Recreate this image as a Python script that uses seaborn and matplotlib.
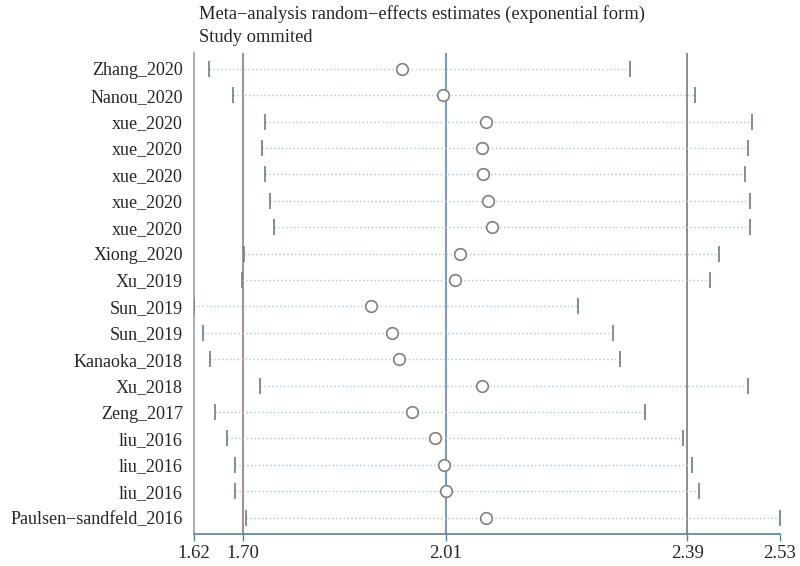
import seaborn as sns
import matplotlib.pyplot as plt
import pandas as pd

sns.set_style("white")
plt.rcParams['font.family'] = ['Liberation Serif', 'DejaVu Serif']

# studies omitted, in plot order (top to bottom)
studies = ["Zhang_2020", "Nanou_2020", "xue_2020", "xue_2020", "xue_2020",
           "xue_2020", "xue_2020", "Xiong_2020", "Xu_2019", "Sun_2019",
           "Sun_2019", "Kanaoka_2018", "Xu_2018", "Zeng_2017", "liu_2016",
           "liu_2016", "liu_2016", "Paulsen\u2212sandfeld_2016"]
estimate = [1.943, 2.007, 2.073, 2.068, 2.069, 2.077, 2.082, 2.033, 2.025,
            1.895, 1.927, 1.938, 2.068, 1.958, 1.995, 2.008, 2.012, 2.073]
lower = [1.644, 1.680, 1.730, 1.725, 1.730, 1.738, 1.745, 1.698, 1.694,
         1.620, 1.634, 1.645, 1.723, 1.653, 1.672, 1.683, 1.684, 1.701]
upper = [2.297, 2.398, 2.487, 2.481, 2.475, 2.483, 2.484, 2.436, 2.421,
         2.216, 2.270, 2.281, 2.481, 2.320, 2.380, 2.394, 2.404, 2.530]

# overall estimate and its CI (reference lines), plus axis limits
overall = [1.696, 2.011, 2.386]
tick_vals = [1.620, 1.696, 2.011, 2.386, 2.530]
tick_labels = ["1.62", "1.70", "2.01", "2.39", "2.53"]

df = pd.DataFrame({"study": studies, "est": estimate, "lo": lower, "hi": upper})
df["row"] = range(len(df))

fig = plt.figure(figsize=(8, 5.66), dpi=100)
ax = fig.add_axes([0.2425, 0.0565, 0.7325, 0.85])

# reference lines
ax.axvline(overall[0], color="#a08478", lw=1.3, zorder=1)
ax.axvline(overall[1], color="#6f90b0", lw=1.3, zorder=1)
ax.axvline(overall[2], color="#858585", lw=1.3, zorder=1)

# dotted CI lines with end caps
ax.hlines(df["row"], df["lo"], df["hi"], colors="#b3c6d6", linestyles=(0, (1, 1.8)), lw=1.0, zorder=2)
ax.plot(df["lo"], df["row"], ls="none", marker="|", ms=11, mew=1.3, color="#74888c", zorder=3)
ax.plot(df["hi"], df["row"], ls="none", marker="|", ms=11, mew=1.3, color="#74888c", zorder=3)

sns.scatterplot(data=df, x="est", y="row", ax=ax, s=70, marker="o",
                facecolor="white", edgecolor="#808080", linewidth=1.2, zorder=4, legend=False)

ax.set_xlim(1.620, 2.530)
ax.set_ylim(17.62, -0.6)
ax.set_yticks(df["row"])
ax.set_yticklabels(df["study"], fontsize=13)
ax.set_xticks(tick_vals)
ax.set_xticklabels(tick_labels, fontsize=13.5)
ax.tick_params(axis="y", length=0, pad=8)
ax.tick_params(axis="x", length=5, width=1, color="#5a7f9c", pad=3, bottom=True)
ax.set_xlabel("")
ax.set_ylabel("")

for s in ["top", "right"]:
    ax.spines[s].set_visible(False)
ax.spines["left"].set_color("#a0a0a0")
ax.spines["left"].set_linewidth(1.2)
ax.spines["bottom"].set_color("#5a7f9c")
ax.spines["bottom"].set_linewidth(1.2)

fig.text(199 / 800, 1 - 14 / 566, "Meta\u2212analysis random\u2212effects estimates (exponential form)",
         fontsize=13.3, va="center", ha="left")
fig.text(199 / 800, 1 - 37 / 566, "Study ommited", fontsize=13.3, va="center", ha="left")

fig.savefig("out.png", dpi=100)
